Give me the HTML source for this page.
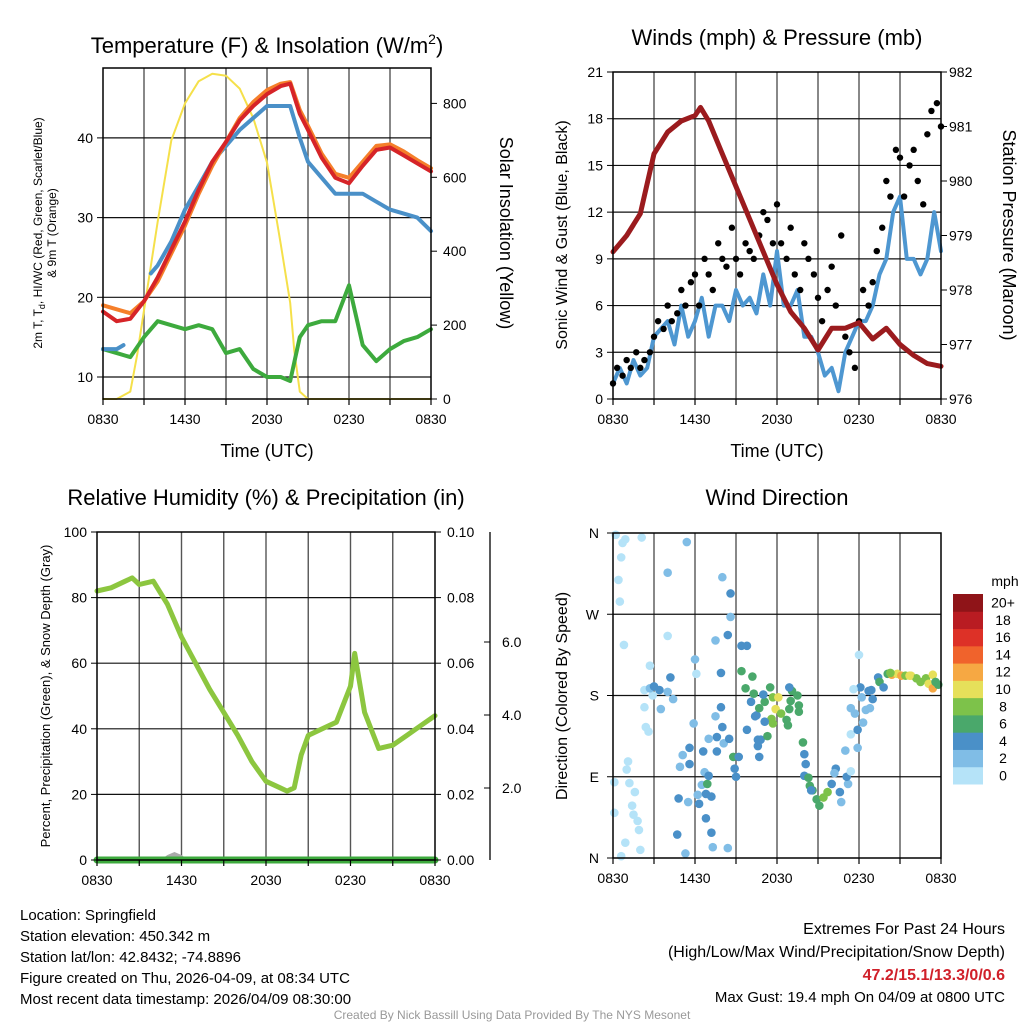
<!DOCTYPE html>
<html><head><meta charset="utf-8"><style>
body{margin:0;background:#fff;}
svg{display:block;font-family:"Liberation Sans",sans-serif;}
</style></head><body>
<svg id="c" width="1024" height="1024" viewBox="0 0 1024 1024"></svg>
<script>
// ---- Temperature panel data (hourly) ----
const tHours=[0,1,2,3,4,5,6,7,8,9,10,11,12,13,13.7,14.4,15,16,17,18,19,20,21,22,23,24];
const temp2m=[18.2,17,17.3,19.5,22.5,26,29.5,33.5,37,39.5,42.2,44,45.5,46.5,46.8,43,41,37.5,35,34.3,36.5,38.5,38.8,37.8,36.8,35.8];
const temp9m=[19,18.5,18,19.5,22,25.5,29,33,36.5,39.5,42.5,44.5,46,46.8,47,43.5,41.5,38,35.5,35,37,39,39.2,38.3,37.2,36.2];
const heatHours=[0,1,1.5,null,3.5,4,5,6,7,8,9,10,11,12,13,13.7,14.4,15,16,17,18,19,20,21,22,23,24];
const heatIdx=[13.5,13.5,14,null,23,24,27,31,34,37,39,41,42.5,44,44,44,40,37,35,33,33,33,32,31,30.5,30,28.3];
const dewPt=[13.5,13,12.5,15,17,16.5,16,16.5,16,13,13.5,11,10,10,9.5,15,16.5,17,17,21.5,14,12,13.5,14.5,15,16];
const solarHours=[0,1,2,2.5,3,4,5,6,7,8,9,10,11,12,13,13.7,14,14.4,15,24];
const solar=[0,0,20,120,240,480,700,800,860,880,875,840,760,640,420,260,130,20,0,0];
// ---- Winds panel ----
const windHours=[0,0.5,1,1.5,2,2.5,3,3.5,4,4.5,5,5.5,6,6.5,7,7.5,8,8.5,9,9.5,10,10.5,11,11.5,12,12.5,13,13.5,14,14.5,15,15.5,16,16.5,17,17.5,18,18.5,19,19.5,20,20.5,21,21.5,22,22.5,23,23.5,24];
const sonicWind=[1,2,1,2.5,1.5,2,4,4.5,5,3.5,6,4,5,6.5,4,6,6,5,7,6,6.5,5.5,8,6,9.5,6,6,7,4,4,3,1.5,2,0.5,3,4,5,5,6,8,9,12,13,9,9,8,9,12,9.5];
const gustHours=[0,0.3,0.7,1,1.3,1.7,2,2.3,2.7,3,3.3,3.7,4,4.3,4.7,5,5.3,5.7,6,6.3,6.7,7,7.3,7.7,8,8.3,8.7,9,9.3,9.7,10,10.3,10.7,11,11.3,11.7,12,12.3,12.7,13,13.3,13.7,14,14.3,14.7,15,15.3,15.7,16,16.3,16.7,17,17.3,17.7,18,18.3,18.7,19,19.3,19.7,20,20.3,20.7,21,21.3,21.7,22,22.3,22.7,23,23.3,23.7,24];
const gust=[1,2,1.5,2.5,2,3,2,2.5,3,4,5,4.5,6,5,5.5,7,6,7.5,8,6,9,8,7,10,9,8.5,11,9,8,10,9.5,9,10.5,12,11.5,10,12.5,10,9,11,8,7,10,9,8,6.5,5,7,8.5,6,10.5,4,3,2,5,7,6,7.5,9.5,11,14,13,16,15.5,13,15,16,14,12.5,17,18.5,19,17.5];
const pressHours=[0,1,2,3,4,5,6,6.4,7,8,9,10,11,12,13,14,15,16,17,18,19,20,21,22,23,24];
const pressure=[978.7,979.0,979.4,980.5,980.9,981.1,981.2,981.35,981.1,980.5,979.9,979.3,978.7,978.1,977.6,977.3,976.9,977.3,977.3,977.4,977.1,977.3,977.0,976.8,976.65,976.6];
// ---- RH panel ----
const rhHours=[0,1,2,2.5,3,4,5,6,7,8,9,10,11,12,13,13.5,14,14.5,15,16,17,18,18.3,19,20,21,22,23,24];
const rhValues=[82,83,85,86,84,85,78,68,60,52,45,38,30,24,22,21,22,32,38,40,42,53,63,45,34,35,38,41,44];
const precip=[0,0];
const snowHours=[4.5,5,5.5,6,6.5];
const snowDepth=[0,0.05,0.08,0.05,0];
// ---- Wind direction panel ----
const dirHours=[0.2,0.7,0.9,2.1,0.6,0.4,0.5,0.8,2.7,2.3,2.9,2.3,2.4,2.6,1.1,1.0,0.1,1.2,1.6,1.4,1.5,0.1,1.8,1.9,0.9,2.0,0.6,
2.7,3.0,3.4,4.0,4.4,3.5,4.2,4.0,4.0,5.4,6.0,6.1,5.9,5.1,4.9,5.6,5.6,4.8,5.5,4.7,5.3,6.6,6.7,6.5,6.2,6.3,6.8,7.2,6.8,7.2,7.3,6.9,7.0,7.6,8.1,7.6,8.5,8.0,7.5,7.9,7.0,8.4,8.9,9.0,8.8,9.2,8.6,8.6,8.0,8.4,7.5,7.9,9.4,9.8,
9.4,10.2,9.7,10.3,10.1,10.5,10.7,11.1,11.5,11.0,11.7,12.1,11.9,11.6,11.7,12.3,12.7,12.8,12.9,13.0,13.1,12.9,13.5,13.6,13.6,11.1,10.4,9.8,10.6,10.8,11.3,10.6,10.7,
13.9,14.0,14.1,14.0,14.3,14.4,14.6,14.9,15.1,15.4,15.7,14.5,16.0,16.3,16.2,16.6,16.7,17.2,17.1,17.4,17.0,17.4,17.9,17.9,18.3,18.5,17.4,17.7,18.2,18.1,17.6,18.0,18.7,19.0,18.8,18.9,
19.4,19.5,19.8,20.1,20.4,20.8,21.1,21.4,21.8,22.2,22.5,22.9,23.1,23.4,23.4,23.6,23.8,20.3,21.7];
const dirValues=[358,349,353,355,333,308,284,236,213,186,180,167,145,140,107,98,84,83,73,58,48,50,41,31,17,9,2,
188,190,186,184,176,165,200,316,246,350,220,204,149,114,101,104,122,66,62,26,5,118,95,81,70,60,71,68,44,28,12,82,91,118,127,134,132,145,157,167,132,11,99,90,112,112,267,293,311,247,241,205,235,235,
207,201,188,182,173,158,166,173,189,181,178,178,165,154,149,160,153,147,165,174,185,189,180,169,162,151,157,142,131,131,135,124,112,
128,115,104,91,89,80,75,65,58,67,73,75,82,99,94,73,62,82,90,96,119,137,122,142,150,164,166,160,178,189,187,225,185,176,166,186,
200,195,189,204,203,204,202,202,202,199,195,199,193,188,203,195,192,205,202];
const dirSpeeds=[1,1,1,1,1,1,1,1,1,1,1,1,1,1,1,1,1,1,1,1,1,1,1,1,1,1,1,
3,5,5,3,3,3,5,3,1,3,3,1,3,3,3,5,5,5,3,5,3,5,3,3,3,5,5,5,5,5,3,7,5,5,3,5,5,5,3,5,3,3,5,5,7,5,3,5,3,5,3,5,5,5,
7,7,7,7,5,5,7,7,7,5,9,11,11,9,9,9,7,7,7,7,7,5,7,7,7,5,5,5,5,5,7,5,5,
7,5,5,5,7,7,7,7,7,9,9,5,5,5,3,5,3,3,5,1,3,1,3,5,3,3,3,3,3,5,1,1,5,5,3,5,
5,7,5,7,13,11,13,9,11,9,9,9,11,13,11,7,7,9,11];
const speedColors=["#b5e3f8","#80bde6","#4a90c8","#4aa86b","#7dc24a","#e6e05a","#f6a843","#f0632c","#dd3127","#b91c22","#8f1418"];
const speedLabels=["0","2","4","6","8","10","12","14","16","18","20+"];
const timeLabels=["0830","1430","2030","0230","0830"];

const svg=document.getElementById('c');
const NS="http://www.w3.org/2000/svg";
function mk(tag,attrs,parent){const e=document.createElementNS(NS,tag);for(const k in attrs)e.setAttribute(k,attrs[k]);(parent||svg).appendChild(e);return e;}
function txt(x,y,s,size,anchor,parent,extra){const e=mk('text',Object.assign({x:x,y:y,'font-size':size,'text-anchor':anchor||'middle',fill:'#000'},extra||{}),parent);e.textContent=s;return e;}
function poly(xs,ys,fx,fy,color,w,parent){let d='';let pen=false;for(let i=0;i<xs.length;i++){if(xs[i]===null){pen=false;continue;}d+=(pen?'L':'M')+fx(xs[i]).toFixed(1)+','+fy(ys[i]).toFixed(1);pen=true;}return mk('path',{d:d,fill:'none',stroke:color,'stroke-width':w,'stroke-linejoin':'round','stroke-linecap':'round'},parent);}
function frame(g,x0,x1,y0,y1,nv,hys){
  for(let k=1;k<nv;k++){const x=x0+(x1-x0)*k/nv;mk('line',{x1:x,x2:x,y1:y0,y2:y1,stroke:'#555','stroke-width':1.4},g);}
  hys.forEach(y=>mk('line',{x1:x0,x2:x1,y1:y,y2:y,stroke:'#111','stroke-width':1.2},g));
}
function border(g,x0,x1,y0,y1){mk('rect',{x:x0,y:y0,width:x1-x0,height:y1-y0,fill:'none',stroke:'#000','stroke-width':1.5},g);}
function xTicks(g,x0,x1,yb){for(let k=0;k<=8;k++){const x=x0+(x1-x0)*k/8;mk('line',{x1:x,x2:x,y1:yb,y2:yb+6,stroke:'#000','stroke-width':1.2},g);}
  timeLabels.forEach((l,i)=>txt(x0+(x1-x0)*i/4,yb+25,l,14,'middle',g));}

// ===== Panel 1: Temperature =====
{
const g=mk('g',{});


const X0=103,X1=431,Y0=68,Y1=399;
const fx=t=>X0+t/24*(X1-X0);
const fy=v=>377-(v-10)*7.97;
const fs=v=>399-v*0.3695;
frame(g,X0,X1,Y0,Y1,8,[10,20,30,40].map(fy));
poly(solarHours,solar,fx,fs,'#f5e04a',2,g);
poly(tHours,dewPt,fx,fy,'#3daa3d',4,g);
poly(heatHours,heatIdx,fx,fy,'#4a90c8',4,g);
poly(tHours,temp9m,fx,fy,'#f57f2a',4,g);
poly(tHours,temp2m,fx,fy,'#d62428',4,g);
border(g,X0,X1,Y0,Y1);
[10,20,30,40].forEach(v=>{mk('line',{x1:X0-6,x2:X0,y1:fy(v),y2:fy(v),stroke:'#000'},g);txt(X0-10,fy(v)+5,String(v),14,'end',g);});
[0,200,400,600,800].forEach(v=>{mk('line',{x1:X1,x2:X1+6,y1:fs(v),y2:fs(v),stroke:'#000'},g);txt(X1+12,fs(v)+5,String(v),14,'start',g);});
xTicks(g,X0,X1,Y1);
const t1=txt(267,53,'Temperature (F) & Insolation (W/m',22,'middle',g);
const sup=mk('tspan',{dy:-9,'font-size':14},t1);sup.textContent='2';const cl=mk('tspan',{dy:9},t1);cl.textContent=')';
txt(267,457,'Time (UTC)',18,'middle',g);
const yl=mk('text',{transform:'translate(42,233) rotate(-90)','font-size':12,'text-anchor':'middle'},g);

yl.innerHTML='2m T, T<tspan font-size="9" dy="3">d</tspan><tspan dy="-3">, HI/WC (Red, Green, Scarlet/Blue)</tspan>';
txt(0,0,'& 9m T (Orange)',12,'middle',g,{transform:'translate(56,233) rotate(-90)'});
txt(0,0,'Solar Insolation (Yellow)',18,'middle',g,{transform:'translate(500,233) rotate(90)'});
}
// ===== Panel 2: Winds =====
{
const g=mk('g',{});


const X0=613,X1=941,Y0=72,Y1=399;
const fx=t=>X0+t/24*(X1-X0);
const fy=v=>Y1-v*(Y1-Y0)/21;
const fp=p=>Y1-(p-976)*(Y1-Y0)/6;
frame(g,X0,X1,Y0,Y1,8,[3,6,9,12,15,18].map(fy));
poly(windHours,sonicWind,fx,fy,'#4e97d1',4,g);
for(let i=0;i<gust.length;i++){const c=mk('circle',{cx:fx(gustHours[i]),cy:fy(gust[i]),r:3.2,fill:'#000'},g);

}
poly(pressHours,pressure,fx,fp,'#9b1b1e',5,g);
border(g,X0,X1,Y0,Y1);
[0,3,6,9,12,15,18,21].forEach(v=>{mk('line',{x1:X0-6,x2:X0,y1:fy(v),y2:fy(v),stroke:'#000'},g);txt(X0-10,fy(v)+5,String(v),14,'end',g);});
[976,977,978,979,980,981,982].forEach(v=>{mk('line',{x1:X1,x2:X1+6,y1:fp(v),y2:fp(v),stroke:'#000'},g);txt(X1+8,fp(v)+5,String(v),14,'start',g);});
xTicks(g,X0,X1,Y1);
txt(777,45,'Winds (mph) & Pressure (mb)',22,'middle',g);
txt(777,457,'Time (UTC)',18,'middle',g);
txt(0,0,'Sonic Wind & Gust (Blue, Black)',16,'middle',g,{transform:'translate(567,235) rotate(-90)'});
txt(0,0,'Station Pressure (Maroon)',18,'middle',g,{transform:'translate(1003,235) rotate(90)'});
}
// ===== Panel 3: RH =====
{
const g=mk('g',{});


const X0=97,X1=435,Y0=532,Y1=860;
const fx=t=>X0+t/24*(X1-X0);
const fy=v=>Y1-v*(Y1-Y0)/100;
frame(g,X0,X1,Y0,Y1,8,[20,40,60,80].map(fy));
poly(rhHours,rhValues,fx,fy,'#8cc63f',5,g);
const sp=mk('path',{d:'',fill:'#aaa'},g);
let d='M'+fx(snowHours[0])+','+Y1;for(let i=0;i<snowHours.length;i++)d+='L'+fx(snowHours[i])+','+(Y1-snowDepth[i]*100);d+='Z';sp.setAttribute('d',d);

poly([0,24],precip,fx,v=>fy(v*1000),'#3daa3d',7,g);
border(g,X0,X1,Y0,Y1);
[0,20,40,60,80,100].forEach(v=>{mk('line',{x1:X0-6,x2:X0,y1:fy(v),y2:fy(v),stroke:'#000'},g);txt(X0-10,fy(v)+5,String(v),14,'end',g);});
['0.00','0.02','0.04','0.06','0.08','0.10'].forEach((l,i)=>{const y=fy(i*20);mk('line',{x1:X1,x2:X1+6,y1:y,y2:y,stroke:'#000'},g);txt(X1+12,y+5,l,14,'start',g);});
mk('line',{x1:490,x2:490,y1:532,y2:860,stroke:'#000','stroke-width':1.3},g);
['2.0','4.0','6.0'].forEach((l,i)=>{mk('line',{x1:484,x2:490,y1:788-i*73,y2:788-i*73,stroke:'#000'},g);txt(502,788-i*73+5,l,14,'start',g);});
xTicks(g,X0,X1,Y1);
txt(266,505,'Relative Humidity (%) & Precipitation (in)',22,'middle',g);
txt(0,0,'Percent, Precipitation (Green), & Snow Depth (Gray)',13,'middle',g,{transform:'translate(50,696) rotate(-90)'});
}
// ===== Panel 4: Wind direction =====
{
const g=mk('g',{});


const X0=613,X1=941,Y0=533,Y1=858;
const fx=t=>X0+t/24*(X1-X0);
const fy=v=>Y1-v/360*(Y1-Y0);
frame(g,X0,X1,Y0,Y1,8,[90,180,270].map(fy));
for(let i=0;i<dirValues.length;i++){const ci=Math.min(10,Math.floor(dirSpeeds[i]/2));
const c=mk('circle',{cx:fx(dirHours[i]),cy:fy(dirValues[i]),r:4.3,fill:speedColors[ci]},g);

}
border(g,X0,X1,Y0,Y1);
['N','E','S','W','N'].forEach((l,i)=>{const y=fy(i*90);mk('line',{x1:X0-6,x2:X0,y1:y,y2:y,stroke:'#000'},g);txt(X0-14,y+5,l,14,'end',g);});
xTicks(g,X0,X1,Y1);
txt(777,505,'Wind Direction',22,'middle',g);
txt(0,0,'Direction (Colored By Speed)',16,'middle',g,{transform:'translate(567,696) rotate(-90)'});
const cb=mk('g',{},g);


const bh=(784-594)/11;
for(let i=0;i<11;i++){const y=784-(i+1)*bh;mk('rect',{x:953,y:y,width:30,height:bh+0.5,fill:speedColors[i]},cb);
txt(1003,y+bh/2+5,speedLabels[i],14,'middle',cb);}
txt(1005,586,'mph',14,'middle',cb);
}
// ===== Footer text =====
{
const g=mk('g',{});


['Location: Springfield','Station elevation: 450.342 m','Station lat/lon: 42.8432; -74.8896','Figure created on Thu, 2026-04-09, at 08:34 UTC','Most recent data timestamp: 2026/04/09 08:30:00'].forEach((s,i)=>txt(20,920+i*21,s,15,'start',g));
const r=mk('g',{});


txt(1005,934,'Extremes For Past 24 Hours',16,'end',r);
txt(1005,957,'(High/Low/Max Wind/Precipitation/Snow Depth)',16,'end',r);
txt(1005,980,'47.2/15.1/13.3/0/0.6',16,'end',r,{fill:'#d0202a','font-weight':'bold'});
txt(1005,1002,'Max Gust: 19.4 mph On 04/09 at 0800 UTC',15,'end',r);
txt(512,1019,'Created By Nick Bassill Using Data Provided By The NYS Mesonet',12,'middle',svg,{fill:'#999'});
}
</script>
</body></html>
